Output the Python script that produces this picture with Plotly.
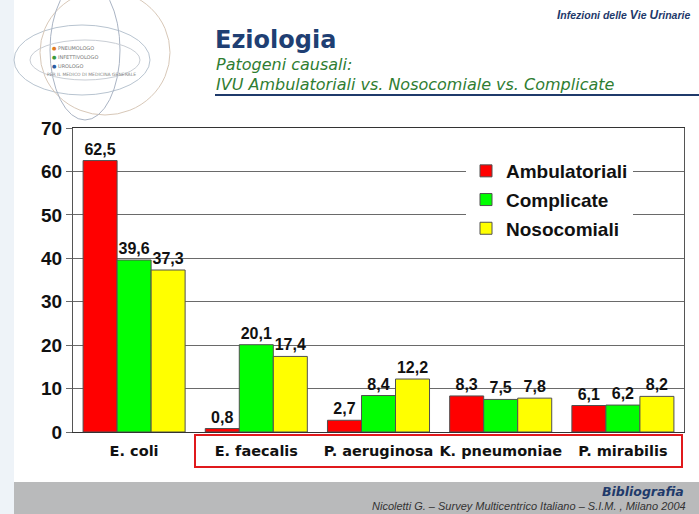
import plotly.graph_objects as go

categories = ["E. coli", "E. faecalis", "P. aeruginosa", "K. pneumoniae", "P. mirabilis"]
ambulatoriali = [62.5, 0.8, 2.7, 8.3, 6.1]
complicate = [39.6, 20.1, 8.4, 7.5, 6.2]
nosocomiali = [37.3, 17.4, 12.2, 7.8, 8.2]
series_names = ["Ambulatoriali", "Complicate", "Nosocomiali"]
series_colors = ["#ff0000", "#00ff00", "#ffff00"]
y_ticks = [0, 10, 20, 30, 40, 50, 60, 70]

W, H = 699, 514
L, R, T, B = 73, 15, 128, 82
PW, PH = W - L - R, H - T - B


def X(px):
    return (px - L) / PW


def Y(py):
    return (H - B - py) / PH


def fmt(v):
    return ("%.1f" % v).replace(".", ",")


fig = go.Figure()
for name, vals, col in zip(series_names, [ambulatoriali, complicate, nosocomiali], series_colors):
    fig.add_trace(go.Bar(
        x=categories, y=vals, name="<b>%s</b>" % name,
        marker=dict(color=col, line=dict(color="#505050", width=1)),
        text=["<b>%s</b>" % fmt(v) for v in vals], textposition="outside",
        textfont=dict(family="Liberation Sans, Arial", size=16, color="#111111"),
        cliponaxis=False, legendgroup=name,
    ))

shapes = []
shapes.append(dict(type="rect", xref="paper", yref="paper", x0=X(0), x1=X(14), y0=Y(H), y1=Y(0),
                   fillcolor="#eef3f8", line=dict(width=0), layer="below"))
shapes.append(dict(type="rect", xref="paper", yref="paper", x0=X(14), x1=X(W), y0=Y(H), y1=Y(482),
                   fillcolor="#b9babb", line=dict(width=0), layer="below"))
shapes.append(dict(type="line", xref="paper", yref="paper", x0=X(215), x1=X(W), y0=Y(95), y1=Y(95),
                   line=dict(color="#1f3a6b", width=2)))
shapes.append(dict(type="rect", xref="paper", yref="paper", x0=X(195), x1=X(682), y0=Y(467), y1=Y(435),
                   line=dict(color="#e0191c", width=2), fillcolor="rgba(0,0,0,0)"))
shapes.append(dict(type="circle", xref="paper", yref="paper", x0=X(14), x1=X(150), y0=Y(95), y1=Y(25),
                   line=dict(color="#b8c4d0", width=1)))
shapes.append(dict(type="circle", xref="paper", yref="paper", x0=X(40), x1=X(170), y0=Y(115), y1=Y(-10),
                   line=dict(color="#d8c8b8", width=1)))
shapes.append(dict(type="circle", xref="paper", yref="paper", x0=X(50), x1=X(120), y0=Y(120), y1=Y(-20),
                   line=dict(color="#aab4c4", width=1)))
shapes.append(dict(type="circle", xref="paper", yref="paper", x0=X(30), x1=X(140), y0=Y(80), y1=Y(40),
                   line=dict(color="#c8cdd4", width=1)))

ann = []
ann.append(dict(text="<b><i><span style='font-size:12px'>I</span>nfezioni delle <span style='font-size:12px'>V</span>ie <span style='font-size:12px'>U</span>rinarie</i></b>",
                xref="paper", yref="paper", x=X(692), y=Y(15), xanchor="right", yanchor="middle",
                showarrow=False, font=dict(family="Liberation Sans, Arial", size=10.5, color="#1f3a6b")))
ann.append(dict(text="<b>Eziologia</b>", xref="paper", yref="paper", x=X(213), y=Y(40),
                xanchor="left", yanchor="middle", showarrow=False,
                font=dict(family="DejaVu Sans", size=24, color="#1f3f73")))
ann.append(dict(text="<i>Patogeni causali:</i>", xref="paper", yref="paper", x=X(214), y=Y(64),
                xanchor="left", yanchor="middle", showarrow=False,
                font=dict(family="DejaVu Sans", size=16, color="#2f7d32")))
ann.append(dict(text="<i>IVU Ambulatoriali vs. Nosocomiale vs. Complicate</i>", xref="paper", yref="paper",
                x=X(214), y=Y(84), xanchor="left", yanchor="middle", showarrow=False,
                font=dict(family="DejaVu Sans", size=16, color="#2f7d32")))
ann.append(dict(text="<b><i>Bibliografia</i></b>", xref="paper", yref="paper", x=X(686), y=Y(491),
                xanchor="right", yanchor="middle", showarrow=False,
                font=dict(family="DejaVu Sans", size=12.5, color="#1f3a6b")))
ann.append(dict(text="<i>Nicoletti G. – Survey Multicentrico Italiano – S.I.M. , Milano 2004</i>",
                xref="paper", yref="paper", x=X(688), y=Y(506), xanchor="right", yanchor="middle",
                showarrow=False, font=dict(family="Liberation Sans, Arial", size=11, color="#333333")))
logo_lines = ["PNEUMOLOGO", "INFETTIVOLOGO", "UROLOGO"]
logo_cols = ["#e07b20", "#3a9a3a", "#2a5aa0"]
for i, (t, c) in enumerate(zip(logo_lines, logo_cols)):
    ann.append(dict(text="<b>●</b> <span style='color:#777'>" + t + "</span>", xref="paper", yref="paper",
                    x=X(50), y=Y(48 + 9 * i), xanchor="left", yanchor="middle", showarrow=False,
                    font=dict(family="DejaVu Sans", size=5, color=c)))
ann.append(dict(text="PER IL MEDICO DI MEDICINA GENERALE", xref="paper", yref="paper",
                x=X(45), y=Y(75), xanchor="left", yanchor="middle", showarrow=False,
                font=dict(family="DejaVu Sans", size=4.5, color="#888888")))

fig.update_layout(
    width=W, height=H,
    margin=dict(l=L, r=R, t=T, b=B, pad=0),
    paper_bgcolor="white", plot_bgcolor="white",
    barmode="group", bargap=0.165, bargroupgap=0,
    shapes=shapes, annotations=ann,
    legend=dict(x=X(466), y=Y(152), xanchor="left", yanchor="top", bgcolor="white",
                font=dict(family="Liberation Sans, Arial", size=19, color="#111111"),
                tracegroupgap=1, itemwidth=30),
    showlegend=True,
)
fig.update_xaxes(showline=True, linecolor="#333333", linewidth=1, mirror=True,
                 ticks="", showgrid=False,
                 tickfont=dict(family="DejaVu Sans", size=14.5, color="#111111"),
                 tickvals=categories, ticktext=["<b>%s</b>" % c for c in categories],
                 ticklabelstandoff=6)
fig.update_yaxes(range=[0, 70], tickvals=y_ticks, ticktext=["<b>%d</b>" % v for v in y_ticks],
                 showgrid=True, gridcolor="#6a6a6a", gridwidth=1,
                 showline=True, linecolor="#555555", linewidth=1, mirror=True,
                 ticks="outside", ticklen=6, tickcolor="#6a6a6a",
                 tickfont=dict(family="Liberation Sans, Arial", size=19, color="#111111"),
                 zeroline=False)

fig.write_html("out.html", config={"displayModeBar": False},
               post_script="document.body.style.margin='0';document.body.style.overflow='hidden';")
